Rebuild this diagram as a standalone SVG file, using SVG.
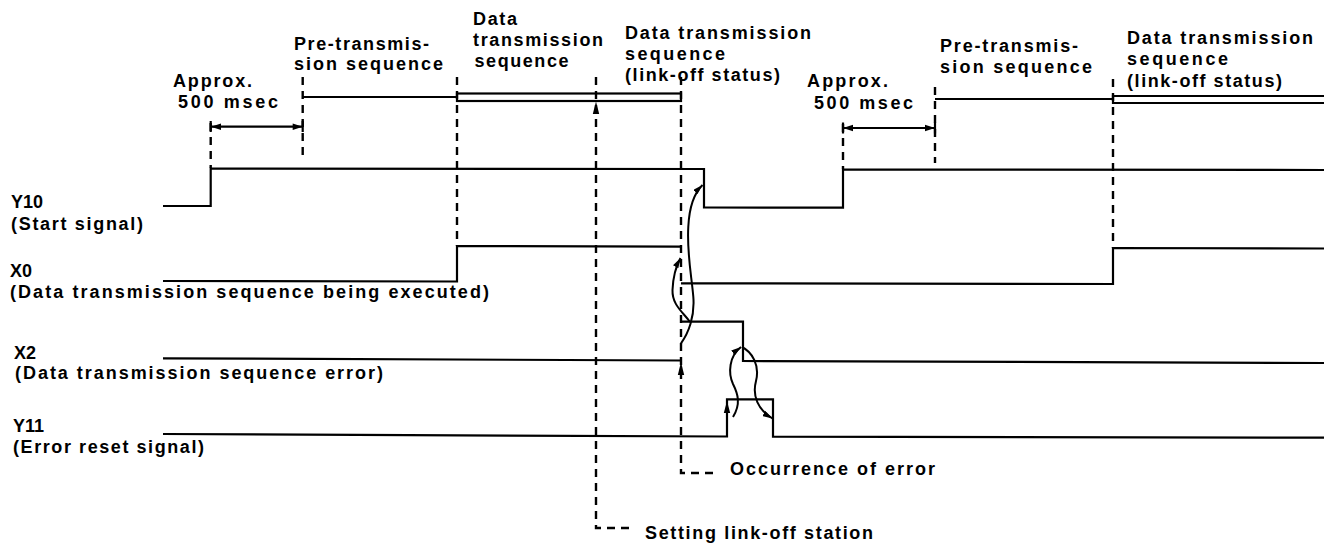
<svg xmlns="http://www.w3.org/2000/svg" width="1324" height="546" viewBox="0 0 1324 546">
<style>
text{font-family:"Liberation Sans",Arial,Helvetica,sans-serif;font-weight:bold;font-size:18px;fill:#000}
.sig{fill:none;stroke:#000;stroke-width:2.2;stroke-linejoin:miter}
.dash{fill:none;stroke:#000;stroke-width:2.4;stroke-dasharray:8 6}
.cur{fill:none;stroke:#000;stroke-width:2;marker-end:url(#ah)}
.ah{fill:#000;stroke:none}
</style>
<defs>
<marker id="ah" viewBox="0 0 10 6" refX="10" refY="3" markerWidth="10" markerHeight="6" markerUnits="userSpaceOnUse" orient="auto"><path d="M0,0 L10,3 L0,6 z" fill="#000"/></marker>
</defs>
<rect width="1324" height="546" fill="#fff"/>

<g id="labels">
<text x="11" y="208">Y10</text>
<text x="11" y="230" textLength="132" lengthAdjust="spacing">(Start signal)</text>
<text x="10" y="277">X0</text>
<text x="10" y="297.5" textLength="479" lengthAdjust="spacing">(Data transmission sequence being executed)</text>
<text x="14" y="358.5">X2</text>
<text x="15" y="379" textLength="368" lengthAdjust="spacing">(Data transmission sequence error)</text>
<text x="13" y="432">Y11</text>
<text x="13" y="453" textLength="191" lengthAdjust="spacing">(Error reset signal)</text>
</g>

<g id="phase-labels">
<text x="173" y="87" textLength="79" lengthAdjust="spacing">Approx.</text>
<text x="178" y="107.5" textLength="100" lengthAdjust="spacing">500 msec</text>
<text x="294" y="49.5" textLength="135" lengthAdjust="spacing">Pre-transmis-</text>
<text x="294" y="70" textLength="149" lengthAdjust="spacing">sion sequence</text>
<text x="473" y="25" textLength="44" lengthAdjust="spacing">Data</text>
<text x="473" y="45.5" textLength="130" lengthAdjust="spacing">transmission</text>
<text x="474.5" y="67" textLength="94" lengthAdjust="spacing">sequence</text>
<text x="625" y="38.5" textLength="186" lengthAdjust="spacing">Data transmission</text>
<text x="625" y="60" textLength="100" lengthAdjust="spacing">sequence</text>
<text x="625" y="81" textLength="155" lengthAdjust="spacing">(link-off status)</text>
<text x="807" y="87" textLength="81" lengthAdjust="spacing">Approx.</text>
<text x="814" y="108.5" textLength="99" lengthAdjust="spacing">500 msec</text>
<text x="940" y="51.5" textLength="138" lengthAdjust="spacing">Pre-transmis-</text>
<text x="940" y="72.5" textLength="152" lengthAdjust="spacing">sion sequence</text>
<text x="1127" y="43.5" textLength="186" lengthAdjust="spacing">Data transmission</text>
<text x="1127" y="65" textLength="101" lengthAdjust="spacing">sequence</text>
<text x="1127" y="87" textLength="155" lengthAdjust="spacing">(link-off status)</text>
<text x="730" y="475" textLength="205" lengthAdjust="spacing">Occurrence of error</text>
<text x="645" y="538.5" textLength="228" lengthAdjust="spacing">Setting link-off station</text>
</g>

<g id="sequence-bars">
<polyline class="sig" points="303,97 457,97"/>
<rect class="sig" x="457" y="93.5" width="224" height="7.5"/>
<polyline class="sig" points="935,99 1113,99"/>
<path class="sig" d="M1326,96 H1113 V103 H1326"/>
</g>

<g id="Y10">
<polyline class="sig" points="163,206 210.7,206 210.7,168.5 704,169 704,207.5 843,207.7 843,169.5 1324,170"/>
</g>
<g id="X0">
<polyline class="sig" points="163,281 457,281.5 457,246 681,246.7"/>
<polyline class="sig" points="681,283.3 1113,284 1113,248 1324,248.5"/>
</g>
<g id="X2">
<polyline class="sig" points="163,358.3 681,360.5"/>
<polyline class="sig" points="681,321.7 743,321.7 743,361 1324,363"/>
</g>
<g id="Y11">
<polyline class="sig" points="163,434 727,436.5 727,399.3 773,399.3 773,436.7 1324,437.7"/>
</g>

<g id="timing-marks">
<line class="dash" x1="210.7" y1="123" x2="210.7" y2="168"/>
<line class="dash" x1="302.7" y1="77" x2="302.7" y2="160"/>
<line class="dash" x1="457" y1="77" x2="457" y2="246"/>
<path class="dash" d="M596,77 V528 H633"/>
<path class="dash" d="M681,77 V473 H717"/>
<line class="dash" x1="843" y1="124" x2="843" y2="169"/>
<line class="dash" x1="935" y1="87" x2="935" y2="163"/>
<line class="dash" x1="1113" y1="79" x2="1113" y2="248"/>
<line class="sig" x1="211" y1="126.7" x2="302.7" y2="126.7"/>
<line class="sig" x1="210.7" y1="121" x2="210.7" y2="132"/>
<line class="sig" x1="302.7" y1="121" x2="302.7" y2="132"/>
<polygon class="ah" points="211,126.7 221,123.5 221,129.9"/>
<polygon class="ah" points="302.7,126.7 292.7,123.5 292.7,129.9"/>
<line class="sig" x1="843" y1="128" x2="935" y2="128"/>
<line class="sig" x1="843" y1="122.5" x2="843" y2="133.5"/>
<line class="sig" x1="935" y1="122.5" x2="935" y2="133.5"/>
<polygon class="ah" points="843,128 853,124.8 853,131.2"/>
<polygon class="ah" points="935,128 925,124.8 925,131.2"/>
<polygon class="ah" points="596,101.5 592.8,114 599.2,114"/>
<polygon class="ah" points="681,362 677.8,375 684.2,375"/>
<polygon class="ah" points="727,401 723.8,413 730.2,413"/>
</g>

<g id="connectors">
<path class="cur" d="M681,343.3 C688.3,333.3 695,316.7 693.3,296.7 C691.7,276.7 686.7,253.3 688.3,226.7 C689.3,206.7 694,193.3 702.5,185"/>
<path class="cur" d="M690,322 C683,312 672,305 672.5,290 C673,278 675,268 680.5,258"/>
<path class="cur" d="M733,417 C741,404 738,394 733,384 C728,373 729,356 741,347"/>
<path class="cur" d="M742,347 C752,352 760,365 756,381 C752,396 758,410 772.5,418.5"/>
</g>
</svg>
